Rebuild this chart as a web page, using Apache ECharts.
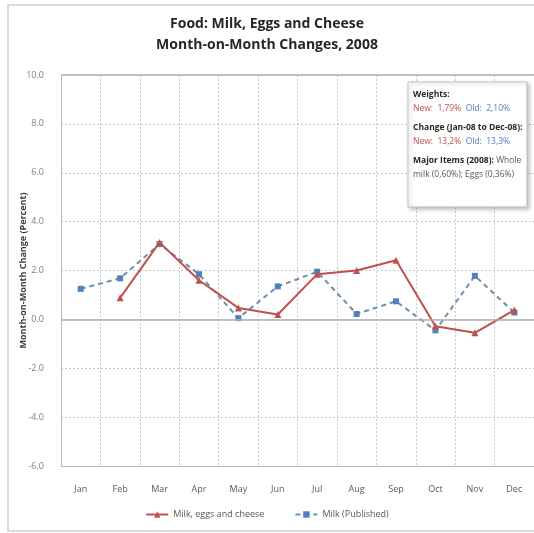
<!DOCTYPE html>
<html>
<head>
<meta charset="utf-8">
<script src="https://cdn.jsdelivr.net/npm/echarts@6/dist/echarts.min.js"></script>
<style>
  html, body { margin: 0; padding: 0; background: #fff; }
  #chart { width: 534px; height: 533px; }
</style>
</head>
<body>
<div id="chart"></div>
<script>
// Month-on-month changes, 2008 (percent)
const months = ['Jan', 'Feb', 'Mar', 'Apr', 'May', 'Jun', 'Jul', 'Aug', 'Sep', 'Oct', 'Nov', 'Dec'];
const milkEggsCheese = [null, 0.88, 3.15, 1.6, 0.47, 0.2, 1.85, 2.0, 2.42, -0.28, -0.55, 0.38];
const milkPublished = [1.25, 1.68, 3.08, 1.85, 0.05, 1.35, 1.95, 0.22, 0.74, -0.45, 1.78, 0.28];
const yTicks = { min: -6, max: 10, step: 2 };

const RED = '#C0504D';
const BLUE = '#4F81BD';
const FONT = '"Liberation Sans Narrow", "Open Sans", sans-serif';

const chart = echarts.init(document.getElementById('chart'), null, { renderer: 'canvas' });

chart.setOption({
  backgroundColor: '#ffffff',
  animation: false,
  title: {
    text: 'Food: Milk, Eggs and Cheese\nMonth-on-Month Changes, 2008',
    left: 'center',
    top: 9,
    textStyle: {
      fontFamily: FONT,
      fontSize: 14,
      fontWeight: 'bold',
      color: '#262626',
      lineHeight: 21
    }
  },
  grid: { left: 61, top: 75, width: 475, height: 391, containLabel: false },
  xAxis: {
    type: 'category',
    data: months,
    boundaryGap: true,
    axisLine: { show: true, onZero: false, lineStyle: { color: '#b8b8b8', width: 1 } },
    axisTick: { show: false },
    axisLabel: { color: '#595959', fontFamily: FONT, fontSize: 9, margin: 19 },
    splitLine: { show: true, interval: 0, lineStyle: { color: '#c8c8c8', type: [2, 2], width: 1 } }
  },
  yAxis: {
    type: 'value',
    min: yTicks.min,
    max: yTicks.max,
    interval: yTicks.step,
    name: 'Month-on-Month Change (Percent)',
    nameLocation: 'middle',
    nameGap: 33,
    nameMoveOverlap: false,
    nameTextStyle: { fontFamily: FONT, fontSize: 9, fontWeight: 'bold', color: '#404040' },
    axisLine: { show: true, lineStyle: { color: '#b8b8b8', width: 1 } },
    axisTick: { show: false },
    axisLabel: {
      color: '#7f7f7f', fontFamily: FONT, fontSize: 9, margin: 17,
      formatter: v => v.toFixed(1)
    },
    splitLine: {
      show: true,
      lineStyle: { color: '#c8c8c8', width: 1, type: [2, 2] }
    }
  },
  legend: {
    bottom: 9,
    left: 'center',
    itemGap: 30,
    itemWidth: 22,
    itemHeight: 8,
    textStyle: { fontFamily: FONT, fontSize: 9, color: '#595959' },
    data: ['Milk, eggs and cheese', 'Milk (Published)']
  },
  series: [
    {
      name: 'Milk, eggs and cheese',
      type: 'line',
      data: milkEggsCheese,
      symbol: 'triangle',
      symbolSize: 7,
      connectNulls: false,
      itemStyle: { color: RED },
      lineStyle: { color: RED, width: 2 },
      z: 3
    },
    {
      name: 'Milk (Published)',
      type: 'line',
      data: milkPublished,
      symbol: 'rect',
      symbolSize: 6,
      itemStyle: { color: BLUE },
      lineStyle: { color: '#6f8fae', width: 2, type: [5, 4] },
      z: 2,
      markLine: {
        silent: true,
        symbol: 'none',
        label: { show: false },
        lineStyle: { color: '#b0b0b0', type: 'solid', width: 1.5 },
        data: [{ yAxis: 0 }, { yAxis: 10 }]
      }
    }
  ],
  graphic: [
    // outer chart frame (left, top and bottom edges visible)
    {
      type: 'rect',
      shape: { x: 8, y: 5, width: 580, height: 526 },
      style: { fill: 'none', stroke: '#d0d0d0', lineWidth: 1.5 },
      silent: true,
      z: -1
    },
    // notes box
    {
      type: 'rect',
      shape: { x: 408, y: 82, width: 119, height: 125 },
      style: {
        fill: '#ffffff', stroke: '#c0c0c0', lineWidth: 1,
        shadowBlur: 4, shadowOffsetX: 2, shadowOffsetY: 2, shadowColor: 'rgba(0,0,0,0.25)'
      },
      z: 10
    },
    {
      type: 'text',
      left: 413,
      top: 88,
      z: 11,
      style: {
        text: [
          '{b|Weights:}',
          '{r|New:  1,79%}  {bl|Old:  2,10%}',
          '{sp| }',
          '{b|Change (Jan-08 to Dec-08):}',
          '{r|New:  13,2%}  {bl|Old:  13,3%}',
          '{sp| }',
          '{b|Major Items (2008):} {g|Whole}',
          '{g|milk (0,60%); Eggs (0,36%)}'
        ].join('\n'),
        fontFamily: FONT,
        fontSize: 8.5,
        lineHeight: 14,
        fill: '#262626',
        rich: {
          b: { fontFamily: FONT, fontSize: 8.5, fontWeight: 'bold', fill: '#262626', lineHeight: 14 },
          r: { fontFamily: FONT, fontSize: 8.5, fill: '#c0504d', lineHeight: 14 },
          bl: { fontFamily: FONT, fontSize: 8.5, fill: '#4f81bd', lineHeight: 14 },
          g: { fontFamily: FONT, fontSize: 8.5, fill: '#595959', lineHeight: 14 },
          sp: { fontSize: 8.5, lineHeight: 5 }
        }
      }
    }
  ]
});
</script>
</body>
</html>
